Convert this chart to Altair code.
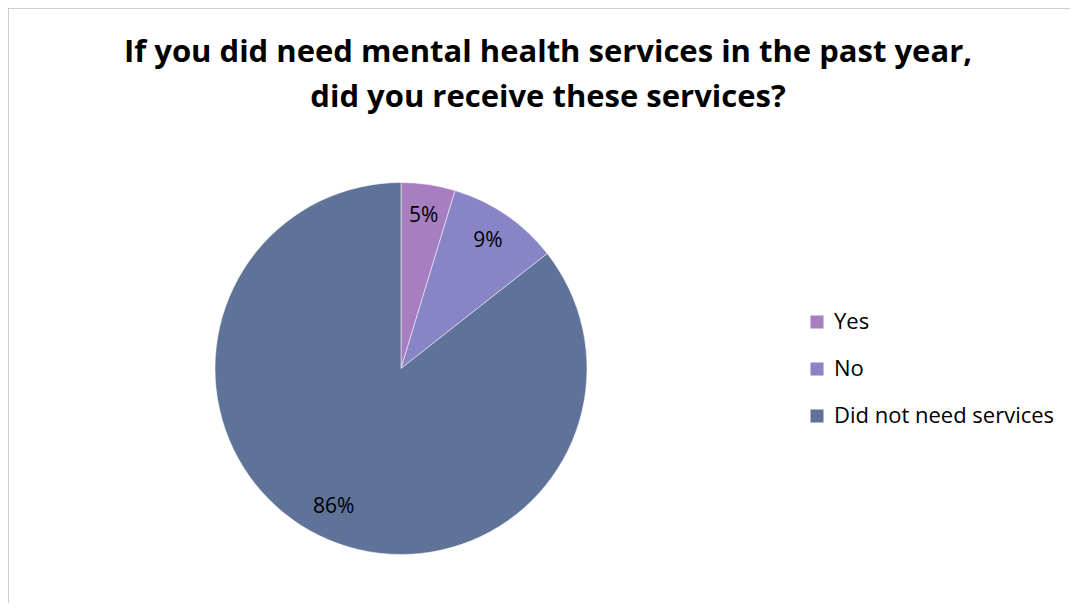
import altair as alt
import pandas as pd

categories = ["Yes", "No", "Did not need services"]
values = [4.7, 9.7, 85.6]
labels = ["5%", "9%", "86%"]
colors = ["#A77FC0", "#8884C6", "#5E7397"]

df = pd.DataFrame({"category": categories, "value": values, "label": labels,
                   "order": [0, 1, 2]})

FONT = "Open Sans"
CX, CY, R = 393, 360.5, 186
W, H = 1062, 595

base = alt.Chart(df).encode(
    theta=alt.Theta("value:Q", stack=True),
    order=alt.Order("order:Q"),
)

pie = base.mark_arc(outerRadius=R, stroke="white", strokeWidth=0.5).encode(
    x=alt.value(CX), y=alt.value(CY),
    color=alt.Color(
        "category:N",
        scale=alt.Scale(domain=categories, range=colors),
        sort=categories,
        legend=alt.Legend(
            title=None, orient="none", legendX=798, legendY=303,
            symbolType="square", symbolSize=170, symbolStrokeWidth=0,
            labelFontSize=22, labelFont=FONT, labelColor="#000000",
            rowPadding=25, labelOffset=6, padding=0, labelLimit=400,
        ),
    ),
)

text = base.mark_text(radius=154, fontSize=21, font=FONT, color="#000000").encode(
    x=alt.value(CX), y=alt.value(CY),
    text="label:N",
)

frame_df = pd.DataFrame({"k": [0]})
top_border = alt.Chart(frame_df).mark_rule(color="#BFBFBF", strokeWidth=1.5).encode(
    x=alt.value(0), x2=alt.value(W), y=alt.value(0)
)
left_border = alt.Chart(frame_df).mark_rule(color="#BFBFBF", strokeWidth=1.5).encode(
    x=alt.value(0), y=alt.value(0), y2=alt.value(H)
)

chart = (top_border + left_border + pie + text).properties(
    width=W, height=H,
    autosize=alt.AutoSizeParams(type="none"),
    padding=0,
    title=alt.TitleParams(
        text=["If you did need mental health services in the past year,",
              "did you receive these services?"],
        anchor="middle", fontSize=31, font=FONT, fontWeight="bold",
        color="#000000", offset=-107, dx=9, lineHeight=45,
    ),
).configure_view(stroke=None)

chart.save("out.html", embed_options={"renderer": "svg", "actions": False})
